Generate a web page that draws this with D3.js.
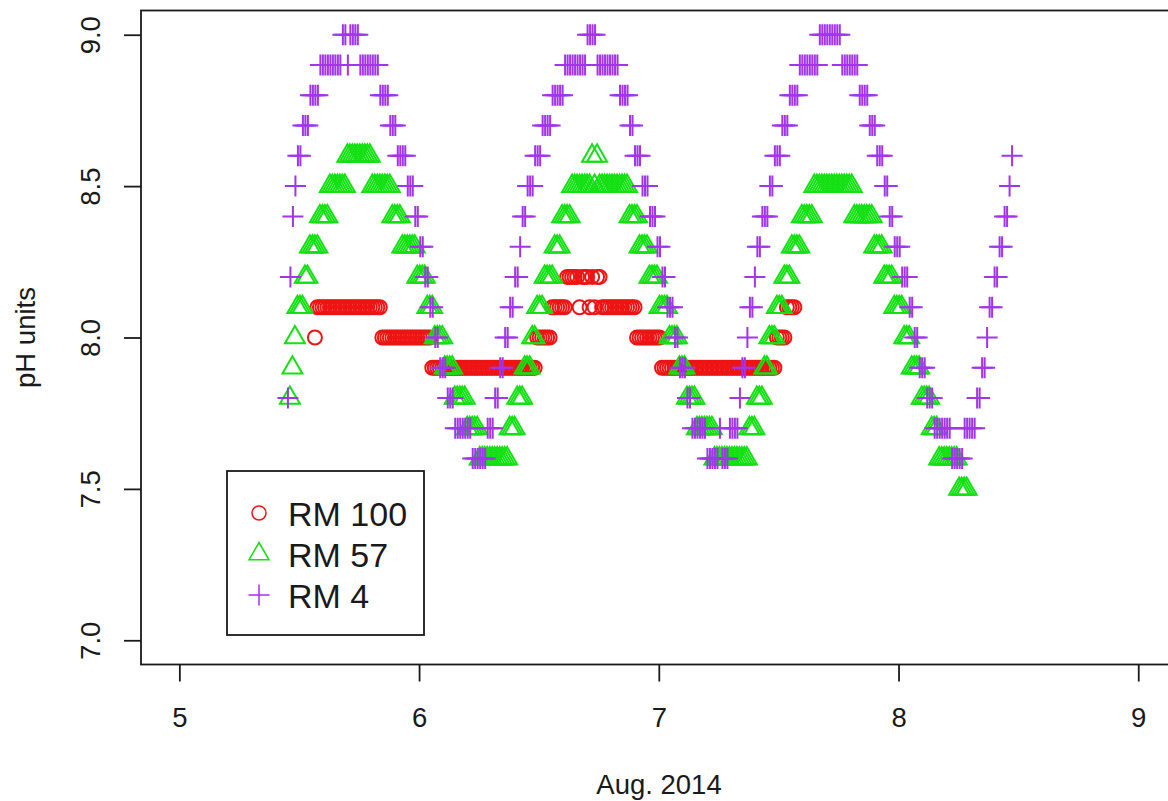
<!DOCTYPE html>
<html>
<head>
<meta charset="utf-8">
<script src="https://cdn.jsdelivr.net/npm/d3@7"></script>
<style>
  body { margin: 0; background: #fff; }
  svg { display: block; }
  text { font-family: "Liberation Sans", Arial, sans-serif; fill: #1a1a1a; }
</style>
</head>
<body>
<div id="chart"></div>
<script>

// readings are stored as runs: [pH, number of consecutive readings]
// RM 4, 15 minute readings, first one at day 5.4529 of Aug.
var rm4Start = 5.4529;
var rm4Step = 1 / 96;
var rm4Runs = [
  [7.8,1],[8.2,1],[8.4,1],[8.5,1],[8.6,2],[8.7,3],[8.8,4],[8.9,9],[9.0,2],[8.9,1],
  [9.0,4],[8.9,8],[8.8,4],[8.7,3],[8.6,4],[8.5,3],[8.4,2],[8.3,2],[8.2,2],[8.1,2],
  [8.0,2],[7.9,3],[7.8,3],[7.7,7],[7.6,6],[7.7,3],[7.8,2],[7.9,2],[8.0,2],[8.1,2],
  [8.2,2],[8.3,1],[8.4,2],[8.5,3],[8.6,3],[8.7,4],[8.8,5],[8.9,9],[9.0,4],[8.9,9],
  [8.8,4],[8.7,2],[8.6,3],[8.5,3],[8.4,3],[8.3,2],[8.2,2],[8.1,3],[8.0,2],[7.9,3],
  [7.8,2],[7.7,6],[7.6,5],[7.7,1],[7.6,3],[7.7,4],[7.8,1],[7.9,2],[8.0,1],[8.1,2],
  [8.2,1],[8.3,2],[8.4,3],[8.5,2],[8.6,3],[8.7,3],[8.8,4],[8.9,8],[9.0,9],[8.9,7],
  [8.8,4],[8.7,3],[8.6,3],[8.5,2],[8.4,2],[8.3,3],[8.2,3],[8.1,2],[8.0,2],[7.9,3],
  [7.8,3],[7.7,7],[7.6,5],[7.7,5],[7.8,2],[7.9,2],[8.0,1],[8.1,2],[8.2,2],[8.3,2],
  [8.4,2],[8.5,1],[8.6,1]
];

// RM 57, 15 minute readings
var rm57Start = 5.4612;
var rm57Step = 1 / 96;
var rm57Runs = [
  [7.8,1],[7.9,1],[8.0,1],[8.1,3],[8.2,2],[8.3,4],[8.4,4],[8.5,7],[8.6,10],[8.5,8],
  [8.4,4],[8.3,6],[8.2,4],[8.1,3],[8.0,4],[7.9,4],[7.8,5],[7.7,5],[7.6,12],[7.7,3],
  [7.8,3],[7.9,3],[8.0,2],[8.1,3],[8.2,4],[8.3,3],[8.4,4],[8.5,8],[8.6,1],[8.5,1],
  [8.6,1],[8.5,12],[8.4,4],[8.3,4],[8.2,4],[8.1,4],[8.0,4],[7.9,3],[7.8,4],[7.7,7],
  [7.6,14],[7.7,3],[7.8,3],[7.9,2],[8.0,3],[8.1,3],[8.2,3],[8.3,4],[8.4,5],[8.5,16],
  [8.4,8],[8.3,4],[8.2,4],[8.1,4],[8.0,3],[7.9,4],[7.8,4],[7.7,3],[7.6,8],[7.5,4]
];

// RM 100, 15 minute readings
var rm100Start = 5.5655;
var rm100Step = 1 / 96;
var rm100Runs = [
  [8.0,1],[8.1,26],[8.0,20],[7.9,42],[8.0,6],[8.1,6],[8.2,5],[8.1,1],[8.2,3],[8.1,1],
  [8.2,1],[8.1,1],[8.2,2],[8.1,14],[8.0,10],[7.9,46],[8.0,4],[8.1,4]
];

var seriesNames = ["RM 100", "RM 57", "RM 4"];
var xTicks = [5, 6, 7, 8, 9];
var yTicks = [7.0, 7.5, 8.0, 8.5, 9.0];

var colors = { "RM 100": "#ee1414", "RM 57": "#14e014", "RM 4": "#a234ea" };

var expand = function(start, step, runs) {
  var out = [];
  var i = 0;
  runs.forEach(function(r) {
    for (var j = 0; j < r[1]; j++) {
      out.push({ t: start + i * step, v: r[0] });
      i++;
    }
  });
  return out;
};

var series = {
  "RM 100": expand(rm100Start, rm100Step, rm100Runs),
  "RM 57": expand(rm57Start, rm57Step, rm57Runs),
  "RM 4": expand(rm4Start, rm4Step, rm4Runs)
};

var W = 1168, H = 801;
var xScale = d3.scaleLinear().domain([4.84, 9.16]).range([141, 1176.6]);
var yScale = d3.scaleLinear().domain([6.92, 9.08]).range([664.5, 10.5]);

var svg = d3.select("#chart").append("svg")
  .attr("width", W).attr("height", H);
svg.append("rect").attr("width", W).attr("height", H).attr("fill", "#fff");

// symbol shapes like R pch 1, 2, 3
var symbolPath = {
  "RM 57": "M0,-11.5L10,5.8L-10,5.8Z",
  "RM 4": "M-10.5,0H10.5M0,-10.5V10.5"
};

var drawSymbol = function(g, name, sw) {
  if (name === "RM 100") {
    g.append("circle").attr("r", 7)
      .attr("fill", "none").attr("stroke", colors[name]).attr("stroke-width", sw);
  } else {
    g.append("path").attr("d", symbolPath[name])
      .attr("fill", "none").attr("stroke", colors[name]).attr("stroke-width", sw);
  }
};

var plotArea = svg.append("g");
seriesNames.forEach(function(name) {
  plotArea.append("g").selectAll("g")
    .data(series[name])
    .enter().append("g")
    .attr("transform", function(d) { return "translate(" + xScale(d.t) + "," + yScale(d.v) + ")"; })
    .each(function() { drawSymbol(d3.select(this), name, 2); });
});

// box
svg.append("rect")
  .attr("x", 141).attr("y", 10.5)
  .attr("width", 1176.6 - 141).attr("height", 654)
  .attr("fill", "none").attr("stroke", "#1a1a1a").attr("stroke-width", 1.8);

var xAxis = svg.append("g")
  .attr("transform", "translate(0,664.5)")
  .call(d3.axisBottom(xScale).tickValues(xTicks).tickSize(17).tickFormat(d3.format("d")));
xAxis.select(".domain").remove();
xAxis.selectAll("line").attr("stroke", "#1a1a1a").attr("stroke-width", 1.8);
xAxis.selectAll("text")
  .attr("y", 62.5).attr("dy", null)
  .style("font-size", "27.5px").style("font-family", "Liberation Sans, Arial, sans-serif").attr("fill", "#1a1a1a");

var yAxis = svg.append("g")
  .attr("transform", "translate(141,0)")
  .call(d3.axisLeft(yScale).tickValues(yTicks).tickSize(17).tickFormat(d3.format(".1f")));
yAxis.select(".domain").remove();
yAxis.selectAll("line").attr("stroke", "#1a1a1a").attr("stroke-width", 1.8);
yAxis.selectAll("text")
  .attr("x", 0).attr("dy", null)
  .attr("text-anchor", "middle")
  .attr("transform", "translate(-41,0) rotate(-90)")
  .style("font-size", "27.5px").style("font-family", "Liberation Sans, Arial, sans-serif").attr("fill", "#1a1a1a");

svg.append("text")
  .attr("x", 659).attr("y", 794)
  .attr("text-anchor", "middle")
  .style("font-size", "27.5px")
  .text("Aug. 2014");

svg.append("text")
  .attr("transform", "translate(35,337.5) rotate(-90)")
  .attr("text-anchor", "middle")
  .style("font-size", "27.5px")
  .text("pH units");

// legend
var legend = svg.append("g");
legend.append("rect")
  .attr("x", 227).attr("y", 471).attr("width", 197).attr("height", 164)
  .attr("fill", "#fff").attr("stroke", "#1a1a1a").attr("stroke-width", 1.8);
var legendY = [513, 554, 595];
seriesNames.forEach(function(name, i) {
  var item = legend.append("g").attr("transform", "translate(259," + legendY[i] + ")");
  drawSymbol(item, name, 1.5);
  legend.append("text")
    .attr("x", 288).attr("y", legendY[i] + 13)
    .style("font-size", "34px")
    .text(name);
});

</script>
</body>
</html>
